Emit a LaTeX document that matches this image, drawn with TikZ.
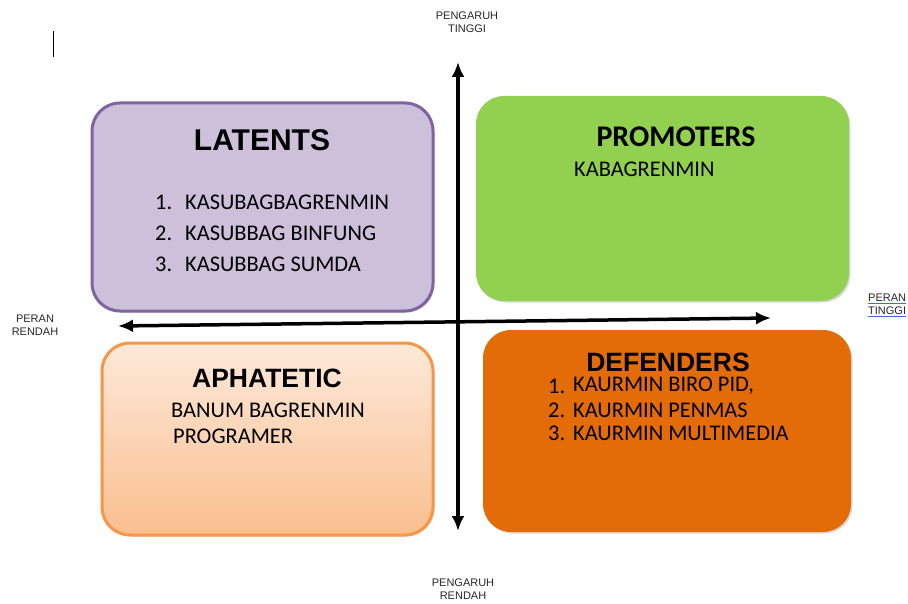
\documentclass[tikz,border=0pt]{standalone}
\usepackage{fontspec}
\setmainfont{Liberation Sans}
\newfontfamily\calfont{Carlito}
\usetikzlibrary{arrows.meta}
\definecolor{lavfill}{HTML}{CCC0DA}
\definecolor{lavdraw}{HTML}{8064A2}
\definecolor{grn}{HTML}{92D050}
\definecolor{orgdraw}{HTML}{F79646}
\definecolor{orgtop}{HTML}{FDE9D9}
\definecolor{orgbot}{HTML}{FABF8F}
\definecolor{dorg}{HTML}{E36C09}
\definecolor{linkblue}{HTML}{3A6FD8}
\tikzset{
  quad/.style={rounded corners=28pt, inner sep=0pt},
  shadowbox/.style={fill=black!15, rounded corners=28pt, inner sep=0pt},
  ttl/.style={font=\fontsize{26.5}{30}\selectfont\bfseries, text=black},
  itm/.style={font=\calfont\fontsize{22.4}{25}\selectfont, text=black, anchor=west, inner sep=0pt},
  lbl/.style={font=\fontsize{11}{13}\selectfont, align=center, text=black!85, inner sep=0pt},
  axis/.style={line width=3.5pt, {Latex[length=15pt,width=13pt]}-{Latex[length=15pt,width=13pt]}}
}
\begin{document}
\begin{tikzpicture}[x=1pt,y=-1pt]
\useasboundingbox (0,0) rectangle (908,604);
% shadows
\node[shadowbox, minimum width=341pt, minimum height=208pt] at (264,208.5) {};
\node[shadowbox, minimum width=373pt, minimum height=205pt] at (664,200) {};
\node[shadowbox, minimum width=331pt, minimum height=192pt] at (269,440.5) {};
\node[shadowbox, minimum width=368pt, minimum height=202pt] at (668.5,432.5) {};
% boxes
\node[quad, fill=lavfill, draw=lavdraw, line width=3pt, minimum width=341pt, minimum height=208pt] (lat) at (262.5,207) {};
\node[quad, fill=grn, minimum width=373pt, minimum height=205pt] (pro) at (662.5,198.5) {};
\node[quad, top color=orgtop, bottom color=orgbot, draw=orgdraw, line width=3pt, minimum width=331pt, minimum height=192pt] (aph) at (267.5,439) {};
\node[quad, fill=dorg, minimum width=368pt, minimum height=202pt] (def) at (667,431) {};
% titles
\node[ttl, font=\fontsize{30}{34}\selectfont\bfseries] (latT) at (262,140) {LATENTS};
\node[ttl, font=\calfont\fontsize{30}{34}\selectfont\bfseries] (proT) at (676,137) {PROMOTERS};
\node[ttl] (aphT) at (267,378) {APHATETIC};
\node[ttl] (defT) at (668,362) {DEFENDERS};
% LATENTS list
\node[itm] (l1n) at (155,202) {1.};
\node[itm] (l1) at (185,202) {KASUBAGBAGRENMIN};
\node[itm] (l2n) at (155,233) {2.};
\node[itm] (l2) at (185,233) {KASUBBAG BINFUNG};
\node[itm] (l3n) at (155,264) {3.};
\node[itm] (l3) at (185,264) {KASUBBAG SUMDA};
% PROMOTERS
\node[itm] (p1) at (574,169) {KABAGRENMIN};
% APHATETIC
\node[itm] (a1) at (171,410) {BANUM BAGRENMIN};
\node[itm] (a2) at (173,436) {PROGRAMER};
% DEFENDERS list
\node[itm] (d1n) at (548,386) {1.};
\node[itm] (d1) at (573,386) {KAURMIN BIRO PID,};
\node[itm] (d2n) at (548,410) {2.};
\node[itm] (d2) at (573,410) {KAURMIN PENMAS};
\node[itm] (d3n) at (548,433) {3.};
\node[itm] (d3) at (573,433) {KAURMIN MULTIMEDIA};
% axes
\coordinate (top) at (458,62);
\coordinate (bot) at (458,531);
\coordinate (left) at (118,326);
\coordinate (right) at (771,318);
\draw[axis] (bot) -- (top);
\draw[axis] (left) -- (right);
% axis labels
\node[lbl] (ptop) at (467,22) {PENGARUH\\TINGGI};
\node[lbl] (pbot) at (463,589) {PENGARUH\\RENDAH};
\node[lbl] (prl) at (35,325) {PERAN\\RENDAH};
\node[lbl, anchor=west] (prt1) at (868,298) {PERAN};
\node[lbl, anchor=west] (prt2) at (868,311) {TINGGI};
\draw[linkblue, line width=0.8pt] ([yshift=-1.5pt]prt1.south west) -- ([yshift=-1.5pt]prt1.south east);
\draw[linkblue, line width=0.8pt] ([yshift=-1.5pt]prt2.south west) -- ([yshift=-1.5pt]prt2.south east);
% cursor
\coordinate (c1) at (53,31);
\coordinate (c2) at (53,57);
\draw[line width=0.8pt] (c1) -- (c2);
\end{tikzpicture}
\end{document}
